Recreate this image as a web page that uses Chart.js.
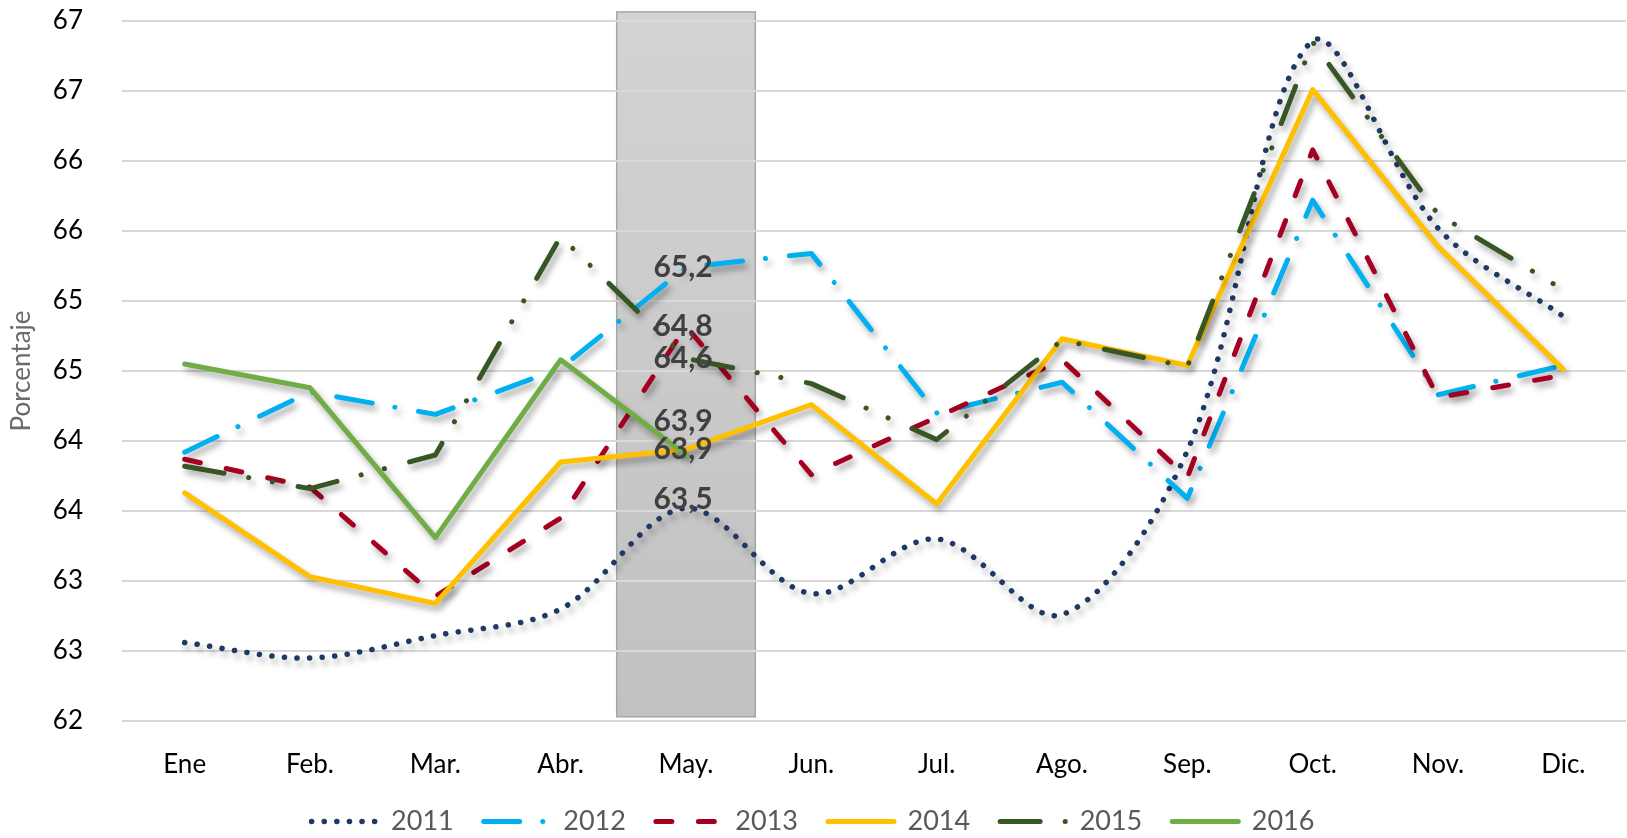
<!DOCTYPE html>
<html>
<head>
<meta charset="utf-8">
<script src="https://cdn.jsdelivr.net/npm/chart.js@4.4.0/dist/chart.umd.min.js"></script>
<style>
    html, body { margin: 0; padding: 0; background: #ffffff; }
</style>
</head>
<body>
<canvas id="chart" width="1627" height="838"></canvas>
<script>
// Data
const months = ['Ene', 'Feb.', 'Mar.', 'Abr.', 'May.', 'Jun.', 'Jul.', 'Ago.', 'Sep.', 'Oct.', 'Nov.', 'Dic.'];
const data2011 = [62.56, 62.45, 62.61, 62.80, 63.52, 62.91, 63.30, 62.76, 63.93, 66.86, 65.52, 64.89];
const data2012 = [63.92, 64.35, 64.19, 64.52, 65.24, 65.34, 64.20, 64.42, 63.59, 65.72, 64.33, 64.54];
const data2013 = [63.87, 63.67, 62.89, 63.45, 64.82, 63.76, 64.17, 64.58, 63.74, 66.08, 64.31, 64.47];
const data2014 = [63.63, 63.03, 62.84, 63.85, 63.94, 64.26, 63.55, 64.73, 64.54, 66.51, 65.39, 64.51];
const data2015 = [63.82, 63.66, 63.90, 65.46, 64.59, 64.41, 64.01, 64.72, 64.53, 66.85, 65.62, 65.08];
const data2016 = [64.55, 64.38, 63.31, 64.58, 63.90, null, null, null, null, null, null, null];
const yTickLabels = ['62', '63', '63', '64', '64', '65', '65', '66', '66', '67', '67'];
const highlightMonth = 4; // May.

Chart.defaults.font.family = 'Lato, "Open Sans", sans-serif';

// Gray band behind the highlighted month
const highlightPlugin = {
    id: 'highlight',
    beforeDraw(chart, args, opts) {
        const { ctx, scales: { x, y } } = chart;
        const step = x.getPixelForValue(1) - x.getPixelForValue(0);
        const cx = x.getPixelForValue(opts.index);
        const left = cx - step * opts.halfWidth;
        const right = cx + step * opts.halfWidth;
        const top = y.getPixelForValue(opts.top);
        const bottom = y.getPixelForValue(opts.bottom);
        const grad = ctx.createLinearGradient(0, top, 0, bottom);
        grad.addColorStop(0, '#d3d3d3');
        grad.addColorStop(1, '#c1c1c1');
        ctx.save();
        ctx.fillStyle = grad;
        ctx.fillRect(left, top, right - left, bottom - top);
        ctx.strokeStyle = '#a6a6a6';
        ctx.lineWidth = 1.5;
        ctx.strokeRect(left, top, right - left, bottom - top);
        ctx.restore();
    }
};

// Soft shadow under every line
const shadowPlugin = {
    id: 'lineShadow',
    beforeDatasetDraw(chart) {
        const ctx = chart.ctx;
        ctx.save();
        ctx.shadowColor = 'rgba(0, 0, 0, 0.35)';
        ctx.shadowBlur = 6;
        ctx.shadowOffsetX = 3;
        ctx.shadowOffsetY = 5;
    },
    afterDatasetDraw(chart) {
        chart.ctx.restore();
    }
};

// Value labels at the highlighted month
const valueLabelPlugin = {
    id: 'valueLabels',
    afterDatasetsDraw(chart, args, opts) {
        const ctx = chart.ctx;
        ctx.save();
        ctx.font = 'bold 30px Lato, "Open Sans", sans-serif';
        ctx.fillStyle = '#404040';
        ctx.textAlign = 'center';
        ctx.textBaseline = 'middle';
        chart.data.datasets.forEach((ds, i) => {
            const value = ds.data[opts.index];
            if (value == null) return;
            const pt = chart.getDatasetMeta(i).data[opts.index];
            const text = value.toFixed(1).replace('.', ',');
            ctx.fillText(text, pt.x + opts.shiftX, pt.y + (opts.shiftY[i] || 0));
        });
        ctx.restore();
    }
};

function series(label, data, color, dash, order, extra) {
    return Object.assign({
        label: label,
        data: data,
        borderColor: color,
        backgroundColor: color,
        borderWidth: 5,
        borderDash: dash,
        borderCapStyle: 'round',
        borderJoinStyle: 'round',
        pointRadius: 0,
        pointHoverRadius: 0,
        pointStyle: 'line',
        tension: 0,
        spanGaps: false,
        fill: false,
        order: order
    }, extra || {});
}

// Legend samples use the dataset's own line style
function legendLabels(chart) {
    const items = Chart.defaults.plugins.legend.labels.generateLabels(chart);
    items.forEach((item) => {
        const ds = chart.data.datasets[item.datasetIndex];
        item.strokeStyle = ds.borderColor;
        item.fillStyle = ds.borderColor;
        item.lineWidth = ds.borderWidth;
        item.lineDash = ds.borderDash;
        item.lineCap = 'round';
        item.pointStyle = 'line';
    });
    return items.sort((a, b) => a.datasetIndex - b.datasetIndex);
}

const ctx = document.getElementById('chart').getContext('2d');
const chart = new Chart(ctx, {
    type: 'line',
    data: {
        labels: months,
        datasets: [
            series('2011', data2011, '#203864', [0.1, 12.5], 6, { tension: 0.33, borderWidth: 5.5 }),
            series('2012', data2012, '#00B0F0', [36, 23, 0.1, 24], 5),
            series('2013', data2013, '#A50021', [16, 26.5], 4),
            series('2014', data2014, '#FFC000', [], 3),
            series('2015', data2015, '#375623', [40, 25, 0.1, 24, 0.1, 26], 2),
            series('2016', data2016, '#70AD47', [], 1)
        ]
    },
    options: {
        responsive: false,
        animation: false,
        layout: {
            padding: { left: 0, right: 1, top: 21, bottom: -7 }
        },
        plugins: {
            legend: {
                position: 'bottom',
                labels: {
                    usePointStyle: true,
                    pointStyleWidth: 66,
                    padding: 30,
                    color: '#595959',
                    font: { size: 27 },
                    generateLabels: legendLabels
                }
            },
            tooltip: { enabled: false },
            highlight: { index: highlightMonth, halfWidth: 0.553, top: 67.065, bottom: 62.03 },
            valueLabels: { index: highlightMonth, shiftX: -3, shiftY: [-9, 0, 0, 0, 0, -34] }
        },
        scales: {
            x: {
                offset: true,
                grid: { display: false },
                border: { display: false },
                ticks: {
                    color: '#000000',
                    font: { size: 26 },
                    padding: 20,
                    maxRotation: 0
                },
                afterFit: (scale) => { scale.height = 57; }
            },
            y: {
                min: 62,
                max: 67,
                grid: {
                    color: '#d9d9d9',
                    lineWidth: 2,
                    drawTicks: true,
                    tickLength: 34,
                    tickColor: 'rgba(0, 0, 0, 0)'
                },
                border: { display: false },
                ticks: {
                    stepSize: 0.5,
                    color: '#000000',
                    font: { size: 26 },
                    padding: 5,
                    callback: (value, index) => yTickLabels[index]
                },
                title: {
                    display: true,
                    text: 'Porcentaje',
                    color: '#6b6b6b',
                    font: { size: 26 },
                    padding: { top: 6, bottom: 0 }
                },
                afterFit: (scale) => { scale.width = 122; }
            }
        }
    },
    plugins: [highlightPlugin, shadowPlugin, valueLabelPlugin]
});
</script>
</body>
</html>
